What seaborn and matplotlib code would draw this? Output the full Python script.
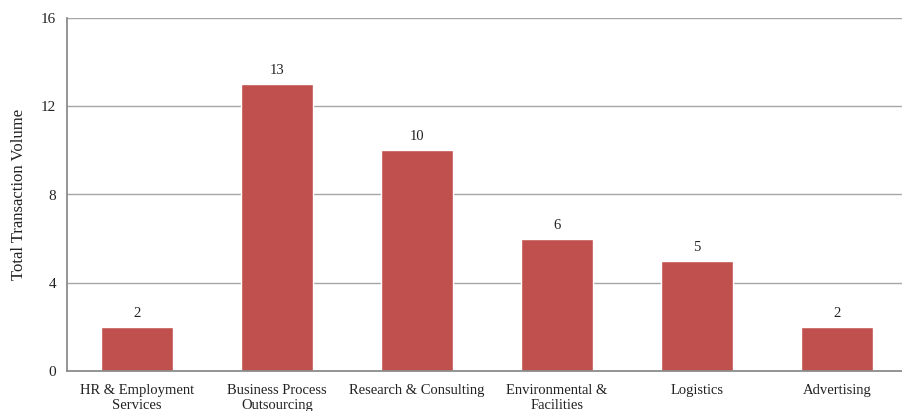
import matplotlib
matplotlib.use("Agg")
import matplotlib.pyplot as plt
import seaborn as sns
import pandas as pd

categories = ["HR & Employment\nServices", "Business Process\nOutsourcing", "Research & Consulting",
              "Environmental &\nFacilities", "Logistics", "Advertising"]
values = [2, 13, 10, 6, 5, 2]
yticks = [0, 4, 8, 12, 16]

sns.set_theme(style="white")
plt.rcParams['font.family'] = ['Liberation Serif', 'DejaVu Serif']

df = pd.DataFrame({"cat": categories, "val": values})
fig = plt.figure(figsize=(9.03, 4.11), dpi=100)
ax = fig.add_axes([67/903, 40/411, 840/903, 353/411])
sns.barplot(data=df, x="cat", y="val", color="#C0504D", saturation=1, width=0.51, ax=ax)
ax.set_ylim(0, 16)
ax.set_yticks(yticks)
ax.set_yticklabels([str(t) for t in yticks], fontsize=11, color="#222222")
ax.set_xticklabels(categories, fontsize=10.5, color="#222222", linespacing=1.25)
ax.yaxis.grid(True, color="#a6a6a6", linewidth=1)
ax.set_axisbelow(True)
ax.set_xlabel("")
ax.set_ylabel("Total Transaction Volume", fontsize=12, color="#222222", labelpad=10)
for s in ["top", "right"]:
    ax.spines[s].set_visible(False)
ax.spines["left"].set_color("#888888")
ax.spines["bottom"].set_color("#888888")
ax.tick_params(axis="y", length=0, pad=8)
ax.tick_params(axis="x", length=0, pad=9)
for c in ax.containers:
    ax.bar_label(c, fmt="%d", padding=5, fontsize=10.5, color="#222222")
fig.savefig("out.png", dpi=100)
